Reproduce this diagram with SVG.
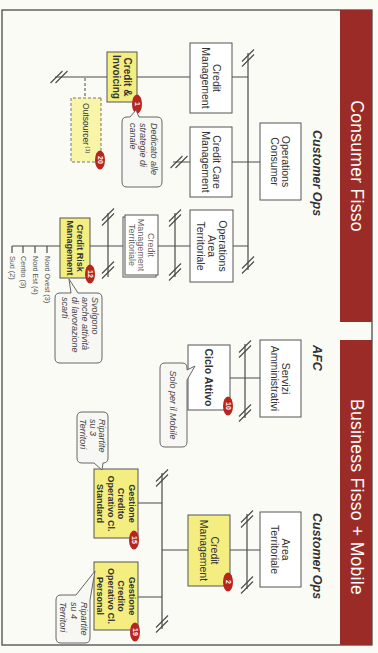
<svg xmlns="http://www.w3.org/2000/svg" width="378" height="653" viewBox="0 0 378 653">
<style>
.bg{fill:#fbfbf6}
.frame{fill:none;stroke:#4a4a4a;stroke-width:1.3}
.bar{fill:#9b2b26}
.hd{font-family:"Liberation Sans",Arial,sans-serif;font-size:17.5px;fill:#fff;text-anchor:middle;letter-spacing:0.3px}
.lbl{font-family:"Liberation Sans",Arial,sans-serif;font-size:12.5px;font-weight:bold;font-style:italic;fill:#333}
.bx{fill:#fff;stroke:#555;stroke-width:1}
.yl{fill:#f4ee80;stroke:#555;stroke-width:1}
.ou{fill:#f8f4a8;stroke:#777;stroke-width:1;stroke-dasharray:3 2}
.t{font-family:"Liberation Sans",Arial,sans-serif;font-size:10.5px;fill:#333;text-anchor:middle}
.tb{font-weight:bold}
.s9{font-size:9px}
.gr{fill:#666}
.cn{fill:none;stroke:#4a4a4a;stroke-width:1.2}
.dash{fill:none;stroke:#666;stroke-width:1.2;stroke-dasharray:3 2}
.brk{fill:none;stroke:#4a4a4a;stroke-width:1.1}
.co{fill:#f7f7f3;stroke:#666;stroke-width:1}
.ct{font-family:"Liberation Sans",Arial,sans-serif;font-size:9px;font-style:italic;fill:#444}
.rg{font-family:"Liberation Sans",Arial,sans-serif;font-size:7.2px;fill:#555}
.bd{fill:#b8251f}
.bn{font-family:"Liberation Sans",Arial,sans-serif;font-size:7px;font-weight:bold;fill:#fff;text-anchor:middle}
</style>
<defs>
<path id="brkH" class="brk" d="M-8.5,-6 L3.5,6 M-3.5,-6 L8.5,6"/>
<path id="brkV" class="brk" d="M-6,-8.5 L6,3.5 M-6,-3.5 L6,8.5"/>
</defs>
<rect class="bg" x="0" y="0" width="378" height="653"/>
<g transform="translate(378,0) rotate(90)">
  <g id="frame">
    <rect class="frame" x="10" y="6" width="635" height="370"/>
    <rect class="bar" x="10" y="6" width="312" height="32"/>
    <rect class="bar" x="340" y="6" width="305" height="32"/>
    <text class="hd" x="166" y="27.5">Consumer Fisso</text>
    <text class="hd" x="497" y="27.5">Business Fisso + Mobile</text>
    <text class="lbl" x="130" y="65">Customer Ops</text>
    <text class="lbl" x="345" y="65">AFC</text>
    <text class="lbl" x="513" y="65">Customer Ops</text>
  </g>
  <g id="connectors">
    <path class="cn" d="M53,130 H270 M162,118 V146 M162,188 V205 M77,130 V323 M246,130 V145 M246,188 V288 M213,203 H277 M213,270 H277 M246,318 V366 M246,331 H253 M246,343 H253 M246,355 H253 M246,366 H253 M344,133 H418 M378,118 V148 M514,131 H589 M550,118 V148 M550,190 V216 M473,216 H629 M503,216 V240 M597,216 V240"/>
    <path class="dash" d="M78,293 H98"/>
    <use href="#brkH" x="58" y="130"/>
    <use href="#brkH" x="265" y="130"/>
    <use href="#brkV" x="162" y="199"/>
    <use href="#brkV" x="77" y="319"/>
    <use href="#brkH" x="218" y="203"/>
    <use href="#brkH" x="272" y="203"/>
    <use href="#brkH" x="217" y="270"/>
    <use href="#brkH" x="270" y="270"/>
    <use href="#brkH" x="349" y="133"/>
    <use href="#brkH" x="413" y="133"/>
    <use href="#brkH" x="519" y="131"/>
    <use href="#brkH" x="585" y="131"/>
    <use href="#brkH" x="478" y="216"/>
    <use href="#brkH" x="624" y="216"/>
  </g>
  <g id="operations-consumer">
    <rect class="bx" x="123" y="77" width="77" height="41"/>
    <text class="t"><tspan x="161.5" y="95.7">Operations</tspan><tspan x="161.5" y="106.7">Consumer</tspan></text>
  </g>
  <g id="credit-management-consumer">
    <rect class="bx" x="43" y="146" width="70" height="42"/>
    <text class="t"><tspan x="78" y="165.2">Credit</tspan><tspan x="78" y="176.2">Management</tspan></text>
  </g>
  <g id="credit-care-management">
    <rect class="bx" x="127" y="146" width="70" height="42"/>
    <text class="t"><tspan x="162" y="165.2">Credit Care</tspan><tspan x="162" y="176.2">Management</tspan></text>
  </g>
  <g id="operations-area-territoriale">
    <rect class="bx" x="210" y="145" width="72" height="43"/>
    <text class="t"><tspan x="246" y="159.2">Operations</tspan><tspan x="246" y="170.2">Area</tspan><tspan x="246" y="181.2">Territoriale</tspan></text>
  </g>
  <g id="credit-invoicing">
    <rect class="yl" x="52" y="241" width="50" height="30"/>
    <text class="t tb" style="font-size:10px"><tspan x="77" y="254.3">Credit &amp;</tspan><tspan x="77" y="264.8">Invoicing</tspan></text>
    <ellipse class="bd" cx="104" cy="241" rx="9.5" ry="5"/>
    <text class="bn" x="104" y="243.5">1</text>
  </g>
  <g id="callout-dedicato">
    <path class="co" d="M122,216 H182 Q187,216 187,221 V251 Q187,256 182,256 H122 Q117,256 117,251 V248 L110,242 L117,239 V221 Q117,216 122,216 Z"/>
    <text class="ct"><tspan x="123" y="227.5">Dedicato alle</tspan><tspan x="123" y="238">strategie di</tspan><tspan x="123" y="248.5">canale</tspan></text>
  </g>
  <g id="outsourcer">
    <rect class="ou" x="98" y="277" width="64" height="30"/>
    <text class="t" style="font-size:8.5px;text-anchor:start" x="103" y="295">Outsourcer<tspan style="font-size:5.5px" dy="-3"> (1)</tspan></text>
    <ellipse class="bd" cx="160" cy="278" rx="9.5" ry="5"/>
    <text class="bn" x="160" y="280.5">20</text>
  </g>
  <g id="credit-management-territoriale">
    <rect class="bx" x="217" y="222" width="60" height="33"/>
    <rect class="bx" x="215" y="220" width="60" height="33"/>
    <text class="t s9 gr"><tspan x="245" y="230.2">Credit</tspan><tspan x="245" y="239.7">Management</tspan><tspan x="245" y="249.2">Territoriale</tspan></text>
  </g>
  <g id="credit-risk-management">
    <rect class="yl" x="218" y="288" width="60" height="30"/>
    <text class="t tb s9"><tspan x="248" y="301.2">Credit Risk</tspan><tspan x="248" y="311.2">Management</tspan></text>
    <ellipse class="bd" cx="274" cy="288" rx="9.5" ry="5"/>
    <text class="bn" x="274" y="290.5">12</text>
  </g>
  <g id="callout-svolgono">
    <path class="co" d="M298,276 H358 Q363,276 363,281 V318 Q363,323 358,323 H298 Q293,323 293,318 V307 L279,309 L293,300 V281 Q293,276 298,276 Z"/>
    <text class="ct"><tspan x="297" y="286">Svolgono</tspan><tspan x="297" y="296">anche attività</tspan><tspan x="297" y="306">di lavorazione</tspan><tspan x="297" y="316">scarti</tspan></text>
  </g>
  <g id="regioni">
    <text class="rg" x="256" y="333.5">Nord Ovest (3)</text>
    <text class="rg" x="256" y="345.5">Nord Est (4)</text>
    <text class="rg" x="256" y="357.5">Centro (3)</text>
    <text class="rg" x="256" y="368.5">Sud (2)</text>
  </g>
  <g id="servizi-amministrativi">
    <rect class="bx" x="340" y="77" width="77" height="41"/>
    <text class="t"><tspan x="378.5" y="95.7">Servizi</tspan><tspan x="378.5" y="106.7">Amministrativi</tspan></text>
  </g>
  <g id="ciclo-attivo">
    <rect class="bx" x="345" y="148" width="65" height="42"/>
    <text class="t tb" x="377.5" y="172.7">Ciclo Attivo</text>
    <ellipse class="bd" cx="406" cy="150" rx="9.5" ry="5"/>
    <text class="bn" x="406" y="152.5">10</text>
  </g>
  <g id="callout-mobile">
    <path class="co" d="M368,191 H370 L366,183 L380,191 H442 Q447,191 447,196 V213 Q447,218 442,218 H368 Q363,218 363,213 V196 Q363,191 368,191 Z"/>
    <text class="ct" style="text-anchor:middle" x="405" y="208">Solo per il Mobile</text>
  </g>
  <g id="area-territoriale">
    <rect class="bx" x="512" y="77" width="75" height="41"/>
    <text class="t"><tspan x="549.5" y="95.7">Area</tspan><tspan x="549.5" y="106.7">Territoriale</tspan></text>
  </g>
  <g id="credit-management-business">
    <rect class="yl" x="515" y="148" width="71" height="42"/>
    <text class="t"><tspan x="550.5" y="167.2">Credit</tspan><tspan x="550.5" y="178.2">Management</tspan></text>
    <ellipse class="bd" cx="582" cy="150" rx="9.5" ry="5"/>
    <text class="bn" x="582" y="152.5">2</text>
  </g>
  <g id="gestione-standard">
    <rect class="yl" x="469" y="240" width="69" height="44"/>
    <text class="t tb s9"><tspan x="503.5" y="249.5">Gestione</tspan><tspan x="503.5" y="260">Credito</tspan><tspan x="503.5" y="270.5">Operativo Cl.</tspan><tspan x="503.5" y="281">Standard</tspan></text>
    <ellipse class="bd" cx="540" cy="244" rx="9.5" ry="5"/>
    <text class="bn" x="540" y="246.5">15</text>
  </g>
  <g id="callout-ripartite-3">
    <path class="co" d="M417,270 H458 Q463,270 463,275 L470,276 L463,284 V296 Q463,301 458,301 H417 Q412,301 412,296 V275 Q412,270 417,270 Z"/>
    <text class="ct"><tspan x="419" y="279">Ripartite</tspan><tspan x="419" y="288.5">su 3</tspan><tspan x="419" y="298">Territori</tspan></text>
  </g>
  <g id="gestione-personal">
    <rect class="yl" x="562" y="240" width="68" height="44"/>
    <text class="t tb s9"><tspan x="596" y="249.5">Gestione</tspan><tspan x="596" y="260">Credito</tspan><tspan x="596" y="270.5">Operativo Cl.</tspan><tspan x="596" y="281">Personal</tspan></text>
    <ellipse class="bd" cx="632" cy="243" rx="9.5" ry="5"/>
    <text class="bn" x="632" y="245.5">19</text>
  </g>
  <g id="callout-ripartite-4">
    <path class="co" d="M600,288 H638 Q643,288 643,293 V317 Q643,322 638,322 H600 Q595,322 595,317 V302 L571,283 L600,288 Z"/>
    <text class="ct"><tspan x="602" y="297">Ripartite</tspan><tspan x="602" y="307.5">su 4</tspan><tspan x="602" y="318">Territori</tspan></text>
  </g>
</g>
</svg>
